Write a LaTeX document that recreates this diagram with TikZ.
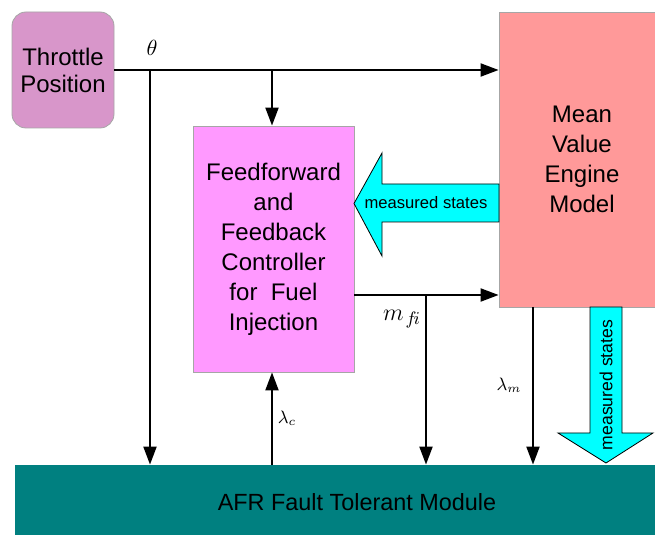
\documentclass[tikz,border=0pt]{standalone}
\usepackage{fontspec}
\setmainfont{Liberation Sans}
\usetikzlibrary{arrows.meta}
\definecolor{thr}{HTML}{D896CA}
\definecolor{ctl}{HTML}{FF99FF}
\definecolor{eng}{HTML}{FF9999}
\definecolor{afrc}{HTML}{008080}
\definecolor{cy}{HTML}{00FFFF}
\tikzset{
  blk/.style={draw=gray!70, line width=0.4pt, align=center, inner sep=0pt,
    font=\fontsize{12}{15}\selectfont},
  arr/.style={line width=1pt, -{Triangle[length=9pt,width=6.5pt]}},
  fat/.style={draw=black, line width=0.4pt, fill=cy},
  small/.style={font=\fontsize{8.3}{10}\selectfont, inner sep=0pt},
  mth/.style={inner sep=0pt}
}
\begin{document}
\begin{tikzpicture}[x=0.5pt,y=-0.5pt]
\useasboundingbox (0,0) rectangle (655,535);
\fill[white] (0,0) rectangle (655,535);
% blocks
\node[blk, fill=thr, rounded corners=7pt, minimum width=51pt, minimum height=58pt,
  font=\fontsize{12}{13.5}\selectfont] (tp) at (63,70) {Throttle\\Position};
\node[blk, fill=ctl, minimum width=80.5pt, minimum height=123pt] (ctrl) at (273.5,249)
  {Feedforward\\and\\Feedback\\Controller\\for\ \ Fuel\\Injection};
\node[blk, fill=eng, minimum width=83pt, minimum height=147.5pt] (eng) at (582,159.5)
  {Mean\\Value\\Engine\\Model};
\node[blk, draw=none, fill=afrc, minimum width=323pt, minimum height=37.5pt] (afr) at (337.5,502.5) {};
\node[inner sep=0pt, font=\fontsize{11.7}{14}\selectfont] (afrt) at (357,502)
  {AFR Fault Tolerant Module};
% junctions
\coordinate (j1) at (150,70);
\coordinate (j2) at (272,70);
\coordinate (j3) at (426,295);
\coordinate (lm) at (533,307);
\coordinate (lc) at (272,465);
% connectors
\draw[arr] (tp.east) -- (tp.east -| eng.west);
\draw[arr] (j1) -- (j1 |- afr.north);
\draw[arr] (j2) -- (j2 |- ctrl.north);
\draw[arr] (ctrl.east |- j3) -- (eng.west |- j3);
\draw[arr] (j3) -- (j3 |- afr.north);
\draw[arr] (lm) -- (lm |- afr.north);
\draw[arr] (lc) -- (lc |- ctrl.south);
% labels
\node[mth, font=\fontsize{10.5}{12}\selectfont] (theta) at (152,48) {$\theta$};
\node[mth, font=\fontsize{13}{14}\selectfont] (mfi) at (402,319) {$m_{\mkern2mu f\!i}$};
\node[mth, font=\fontsize{9}{11}\selectfont] (lamm) at (509,385) {$\lambda_m$};
\node[mth, font=\fontsize{9}{11}\selectfont] (lamc) at (287,418) {$\lambda_c$};
% fat arrows
\draw[fat] (499,184) -- (382,184) -- (382,153) -- (354,203.5) -- (382,256) -- (382,222) -- (499,222) -- cycle;
\node[small] (ms1) at (426,203) {measured states};
\draw[fat] (590,307) -- (590,433) -- (558,433) -- (606,463) -- (653,433) -- (622,433) -- (622,307) -- cycle;
\node[small, font=\fontsize{8.8}{10}\selectfont, rotate=90] (ms2) at (606,385) {measured states};
\end{tikzpicture}
\end{document}
